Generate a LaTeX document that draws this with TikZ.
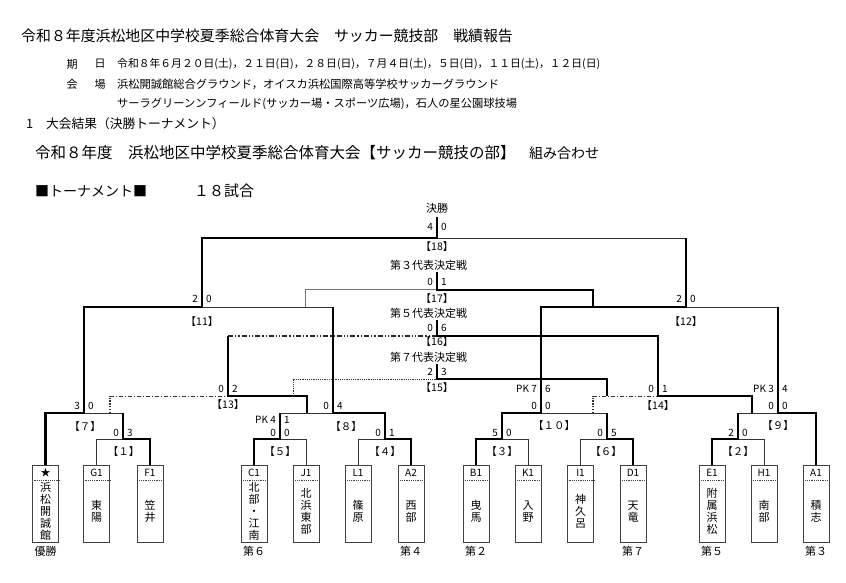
\documentclass[tikz,border=0pt]{standalone}
\usepackage{fontspec}
\setmainfont{Noto Sans CJK JP}
\tikzset{
  lo/.style={line width=0.8pt, draw=black!80, line join=miter},
  hi/.style={line width=2.4pt, draw=black, line join=miter},
  dotv/.style={line width=1.4pt, draw=black!80, dash pattern=on 1.4pt off 1.4pt},
  dashdot/.style={line width=0.8pt, draw=black!80, dash pattern=on 4pt off 2pt on 1pt off 2pt},
  dashdotdot/.style={line width=1.3pt, draw=black!85, dash pattern=on 5pt off 2pt on 1.3pt off 2pt on 1.3pt off 2pt},
  fdot/.style={line width=0.7pt, draw=black!80, dash pattern=on 1.2pt off 1pt},
  dbl/.style={line width=0.5pt, draw=black!55, double=white, double distance=0.8pt},
  tbox/.style={draw=black!75, line width=0.8pt, minimum width=26pt, minimum height=77pt, inner sep=0pt},
  sepl/.style={line width=0.7pt, draw=black!75, dash pattern=on 1.2pt off 1pt},
  scr/.style={inner sep=0pt, font=\fontsize{10}{10}\selectfont},
  mlab/.style={inner sep=0pt, font=\fontsize{10.5}{10.5}\selectfont},
  tlab/.style={inner sep=0pt, font=\fontsize{10}{10}\selectfont},
  vname/.style={inner sep=0pt, align=center, font=\fontsize{11}{12}\selectfont},
  place/.style={inner sep=0pt, font=\fontsize{11}{11}\selectfont},
  hdr/.style={inner sep=0pt, anchor=west},
}
\newcommand\myscore[5]{%
  \node[scr,anchor=east] (#1l) at (#2-4,#3) {#4};
  \node[scr,anchor=west] (#1r) at (#2+4,#3) {#5};}
\newcommand\myteam[5]{% name, x, label, vertical name, idx
  \node[tbox] (b#1) at (#2,503.5) {};
  \draw[sepl] ([yshift=-16pt]b#1.north west) -- ([yshift=-16pt]b#1.north east);
  \node[tlab] (l#1) at ([yshift=-8pt]b#1.north) {#3};
  \node[vname] (n#1) at ([yshift=-8pt]b#1.center) {#4};}
\begin{document}
\begin{tikzpicture}[x=1pt,y=-1pt]
\useasboundingbox (0,0) rectangle (846,582);
\fill[white] (0,0) rectangle (846,582);

% ---------- header ----------
\node[hdr, font=\fontsize{14.9}{15}\selectfont] (h1) at (21,36) {令和８年度浜松地区中学校夏季総合体育大会　サッカー競技部　戦績報告};
\node[hdr, font=\fontsize{11}{11}\selectfont] (h2a) at (66.5,64) {期};
\node[hdr, font=\fontsize{11}{11}\selectfont] (h2c) at (94.5,64) {日};
\node[hdr, font=\fontsize{10.8}{11}\selectfont] (h2b) at (117,64) {令和８年６月２０日(土)，２１日(日)，２８日(日)，７月４日(土)，５日(日)，１１日(土)，１２日(日)};
\node[hdr, font=\fontsize{11}{11}\selectfont] (h3a) at (66.5,84) {会};
\node[hdr, font=\fontsize{11}{11}\selectfont] (h3c) at (94.5,84) {場};
\node[hdr, font=\fontsize{11.25}{11}\selectfont] (h3b) at (117,84) {浜松開誠館総合グラウンド，オイスカ浜松国際高等学校サッカーグラウンド};
\node[hdr, font=\fontsize{11.25}{11}\selectfont] (h4) at (117,104) {サーラグリーンンフィールド(サッカー場・スポーツ広場)，石人の星公園球技場};
\node[hdr, font=\fontsize{12.75}{13}\selectfont] (h5a) at (26,124) {1};
\node[hdr, font=\fontsize{12.75}{13}\selectfont] (h5b) at (46,124) {大会結果（決勝トーナメント）};
\node[hdr, font=\fontsize{15.5}{15.5}\selectfont] (h6a) at (35,153) {令和８年度　浜松地区中学校夏季総合体育大会【サッカー競技の部】};
\node[hdr, font=\fontsize{14}{14}\selectfont] (h6b) at (529,153) {組み合わせ};
\node[hdr, font=\fontsize{14}{14}\selectfont] (h7a) at (35,191) {■トーナメント■};
\node[hdr, font=\fontsize{15}{15}\selectfont] (h7b) at (194,191) {１８試合};

% ---------- teams ----------
\myteam{S}{45.5}{★}{浜\\松\\開\\誠\\館}{1}
\myteam{G}{96.5}{G1}{東\\陽}{2}
\myteam{F}{150}{F1}{笠\\井}{3}
\myteam{C}{254}{C1}{北\\部\\・\\江\\南}{4}
\myteam{J}{306}{J1}{北\\浜\\東\\部}{5}
\myteam{L}{358}{L1}{篠\\原}{6}
\myteam{Aa}{411}{A2}{西\\部}{7}
\myteam{B}{476}{B1}{曳\\馬}{8}
\myteam{K}{528}{K1}{入\\野}{9}
\myteam{I}{580.5}{I1}{神\\久\\呂}{10}
\myteam{D}{633}{D1}{天\\竜}{11}
\myteam{E}{712}{E1}{附\\属\\浜\\松}{12}
\myteam{H}{764}{H1}{南\\部}{13}
\myteam{A}{816}{A1}{積\\志}{14}

\node[place] (p1) at (45.5,551) {優勝};
\node[place] (p6) at (254,551) {第６};
\node[place] (p4) at (411,551) {第４};
\node[place] (p2) at (476,551) {第２};
\node[place] (p7) at (633,551) {第７};
\node[place] (p5) at (712,551) {第５};
\node[place] (p3) at (816,551) {第３};

% ---------- match points ----------
\coordinate (M1) at (123,439);
\coordinate (M5) at (280,439);
\coordinate (M4) at (385,439);
\coordinate (M3) at (502,439);
\coordinate (M6) at (607,439);
\coordinate (M2) at (738,439);
\coordinate (M7) at (84,413);
\coordinate (M8) at (333,413);
\coordinate (M10) at (541,413);
\coordinate (M9) at (778,413);
\coordinate (M11) at (202,307);
\coordinate (M12) at (686,307);
\coordinate (M13) at (228,396);
\coordinate (M14) at (658,396);
\coordinate (M15) at (437,379);
\coordinate (M16) at (437,336);
\coordinate (M17) at (437,290);
\coordinate (M18) at (437,238);
\coordinate (T18) at (437,217);
\coordinate (T17) at (437,272);
\coordinate (T16) at (437,320);
\coordinate (T15) at (437,364);
\coordinate (L7) at (110,413);
\coordinate (L8) at (307,413);
\coordinate (L10) at (593,413);
\coordinate (L9) at (752,413);
\coordinate (L13) at (293,396);
\coordinate (L14) at (607,396);
\coordinate (L11) at (306,307);
\coordinate (L12) at (593,307);

% ---------- thin (losing) lines ----------
\draw[lo] (bG.north) |- (M1);
\draw[lo] (M7) -- (M1 |- M7);
\draw[lo] (bJ.north) |- (M5);
\draw[lo] (M5 |- M8) -- (M8);
\draw[lo] (bL.north) |- (M4);
\draw[lo] (M11) -- (M8 |- M11);
\draw[lo] (M18) -- (M12 |- M18);
\draw[lo] (bK.north) |- (M3);
\draw[lo] (bI.north) |- (M6);
\draw[lo] (M10) -- (M6 |- M10);
\draw[lo] (bH.north) |- (M2);
\draw[lo] (M2 |- M9) -- (M9);
\draw[lo] (M12) -- (M9 |- M12);

% consolation losing lines
\draw[dotv] (L7) -- (L7 |- M13);
\draw[dashdot] (L7 |- M13) -- (M13);
\draw[dotv] (L10) -- (L10 |- M14);
\draw[dashdot] (L10 |- M14) -- (M14);
\draw[dashdotdot] (M13 |- M16) -- (M16);
\draw[fdot] (L13) |- (M15);
\draw[dbl] (L11) |- (M17);

% ---------- thick (winning) lines ----------
\draw[hi] (bS.north) |- (M7) |- (M11) |- (M18) -- (T18);
\draw[hi] (bF.north) |- (M1) -- (M1 |- M7);
\draw[hi] (bC.north) |- (M5) -- (M5 |- M8);
\draw[hi] (bAa.north) |- (M4) |- (M8) -- (M8 |- M11);
\draw[hi] (bB.north) |- (M3) |- (M10) |- (M12) -- (M12 |- M18);
\draw[hi] (bD.north) |- (M6) -- (M6 |- M10);
\draw[hi] (bE.north) |- (M2) -- (M2 |- M9);
\draw[hi] (bA.north) |- (M9) -- (M9 |- M12);
\draw[hi] (L8) |- (M13) -- (M13 |- M16);
\draw[hi] (L9) |- (M14) |- (M16) -- (T16);
\draw[hi] (L14) |- (M15) -- (T15);
\draw[hi] (L12) |- (M17) -- (T17);

% ---------- titles of final rounds ----------
\node[place] (tf) at (437,208) {決勝};
\node[place] (t3) at (428.5,265) {第３代表決定戦};
\node[place] (t5) at (428.5,313) {第５代表決定戦};
\node[place] (t7) at (428.5,357) {第７代表決定戦};

% ---------- match labels ----------
\node[mlab] (g18) at (437,247) {【18】};
\node[mlab] (g17) at (437,299) {【17】};
\node[mlab] (g16) at (437,342) {【16】};
\node[mlab] (g15) at (437,388) {【15】};
\node[mlab] (g11) at (202,322) {【11】};
\node[mlab] (g12) at (686,322) {【12】};
\node[mlab] (g13) at (228,405) {【13】};
\node[mlab] (g14) at (658,406) {【14】};
\node[mlab] (g7) at (85,427) {【７】};
\node[mlab] (g8) at (346,427) {【８】};
\node[mlab] (g10) at (554,426) {【１０】};
\node[mlab] (g9) at (778,426) {【９】};
\node[mlab] (g1) at (123.5,452) {【１】};
\node[mlab] (g5) at (280,452) {【５】};
\node[mlab] (g4) at (385,452) {【４】};
\node[mlab] (g3) at (502,452) {【３】};
\node[mlab] (g6) at (606,452) {【６】};
\node[mlab] (g2) at (738,452) {【２】};

% ---------- scores ----------
\myscore{s18}{437}{227}{4}{0}
\myscore{s17}{437}{282}{0}{1}
\myscore{s16}{437}{328}{0}{6}
\myscore{s15}{437}{372}{2}{3}
\myscore{s11}{202}{299}{2}{0}
\myscore{s12}{686}{299}{2}{0}
\myscore{s13}{228}{389}{0}{2}
\myscore{s14}{658}{389}{0}{1}
\myscore{s10p}{541}{389}{PK 7}{6}
\myscore{s10}{541}{406}{0}{0}
\myscore{s9p}{778}{389}{PK 3}{4}
\myscore{s9}{778}{406}{0}{0}
\myscore{s7}{84}{406}{3}{0}
\myscore{s8}{333}{406}{0}{4}
\myscore{s5p}{280}{420}{PK 4}{1}
\myscore{s5}{280}{433}{0}{0}
\myscore{s4}{385}{433}{0}{1}
\myscore{s1}{123}{433}{0}{3}
\myscore{s3}{502}{433}{5}{0}
\myscore{s6}{607}{433}{0}{5}
\myscore{s2}{738}{433}{2}{0}
\end{tikzpicture}
\end{document}
